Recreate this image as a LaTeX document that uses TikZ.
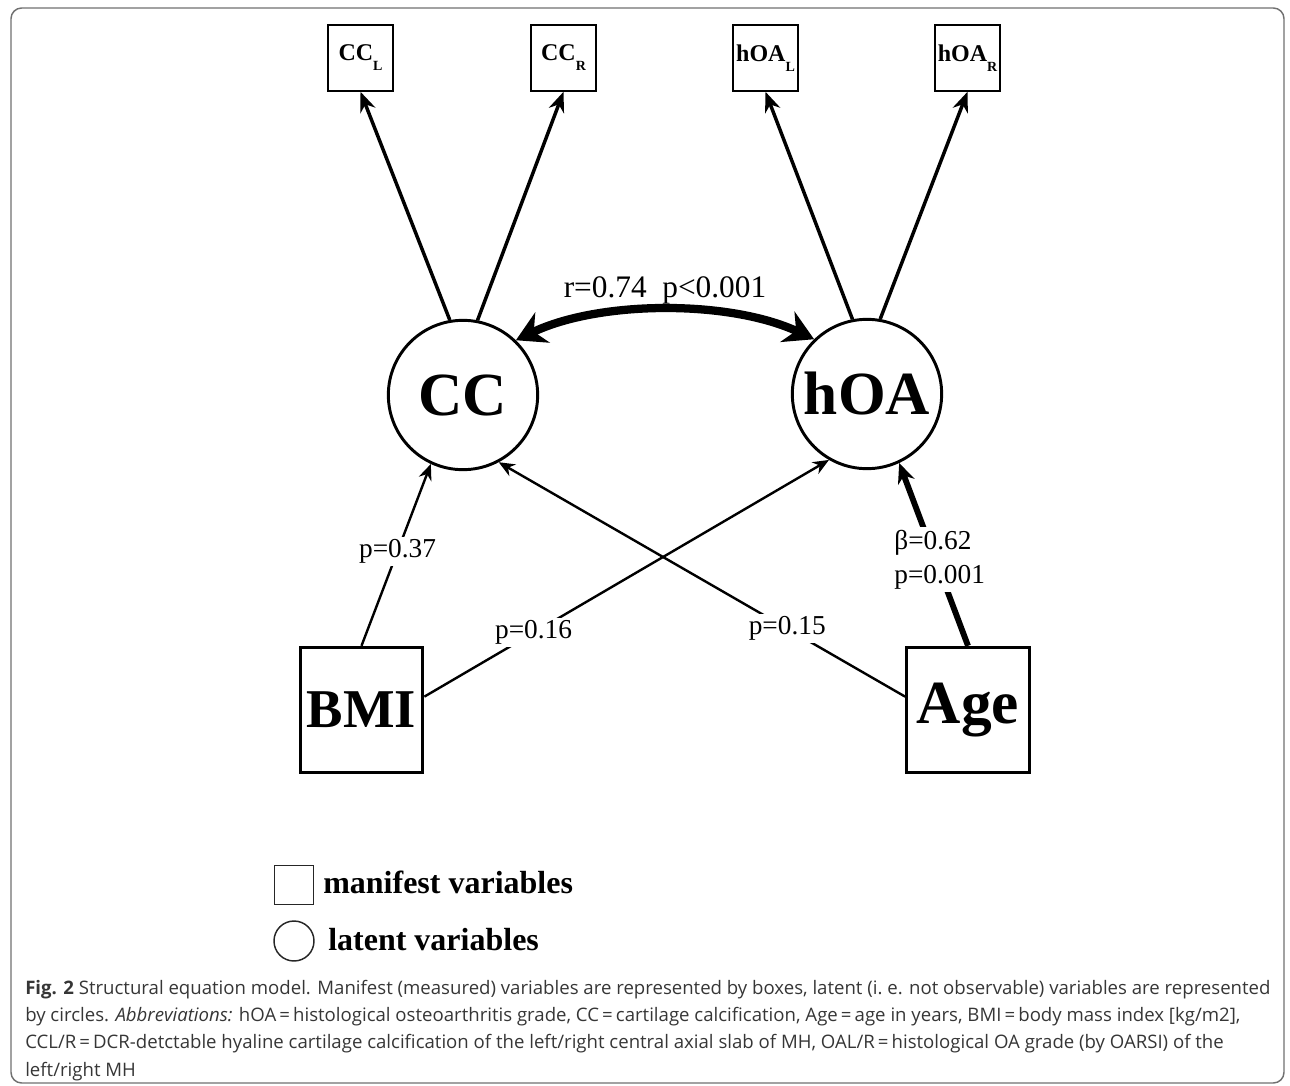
\documentclass[tikz,border=0pt]{standalone}
\usepackage{fontspec}
\setmainfont{Liberation Serif}
\newfontfamily\capfont{Open Sans}
\usetikzlibrary{arrows.meta}
\definecolor{capgray}{HTML}{363636}
\definecolor{framegray}{HTML}{707070}
\newcommand{\lowsub}[1]{\raisebox{-0.42em}{\fontsize{10.5}{10.5}\selectfont #1}}

\tikzset{
  manifest/.style={draw, line width=1.2pt, minimum width=49pt, minimum height=49.5pt, inner sep=0pt, font=\fontsize{18}{20}\selectfont\bfseries},
  bigbox/.style={draw, line width=2.3pt, minimum width=92pt, minimum height=94pt, inner sep=0pt, font=\fontsize{41}{46}\selectfont\bfseries},
  latent/.style={draw, circle, line width=2.2pt, minimum size=112pt, inner sep=0pt, font=\fontsize{46}{50}\selectfont\bfseries},
  loading/.style={line width=2.6pt, -{Stealth[length=15pt, width=12pt]}},
  reg/.style={line width=1.8pt, -{Stealth[length=12pt, width=10pt]}},
  strongreg/.style={line width=4.4pt, -{Stealth[length=15pt, width=13pt]}},
  corr/.style={line width=6.2pt, {Stealth[length=22pt, width=25pt]}-{Stealth[length=22pt, width=25pt]}},
  plabel/.style={fill=white, inner sep=2pt, font=\fontsize{20.5}{26}\selectfont},
  legendtxt/.style={anchor=base west, inner sep=0pt, font=\fontsize{24}{28}\selectfont\bfseries},
  captxt/.style={anchor=base west, inner sep=0pt, text=capgray, font=\capfont\fontsize{13.95}{16}\selectfont},
}

\begin{document}
\begin{tikzpicture}[x=0.75pt, y=-0.75pt]
  \useasboundingbox (0,0) rectangle (1290,1086);
  \draw[framegray, line width=1.1pt, rounded corners=8pt] (11,8) rectangle (1284,1083);

  % measured indicators
  \node[manifest] (ccl) at (360.5,58) {CC\lowsub{L}};
  \node[manifest] (ccr) at (563.5,58) {CC\lowsub{R}};
  \node[manifest] (hoal) at (765.5,58) {hOA\lowsub{L}};
  \node[manifest] (hoar) at (967.5,58) {hOA\lowsub{R}};

  % latent variables
  \node[latent] (cc) at (463,395) {CC};
  \node[latent] (hoa) at (867,394) {hOA};

  % covariates
  \node[bigbox] (bmi) at (361.5,710) {BMI};
  \node[bigbox, font=\fontsize{46}{50}\selectfont\bfseries] (age) at (968,710) {Age};

  \draw[loading] (cc.100) -- (ccl.south);
  \draw[loading] (cc.79) -- (ccr.south);
  \draw[loading] (hoa.101) -- (hoal.south);
  \draw[loading] (hoa.80) -- (hoar.south);

  \draw[corr] (cc.46) .. controls (600,300) and (730,300) .. node[pos=0.5, anchor=base, yshift=9pt, inner sep=0pt, font=\fontsize{23.5}{26}\selectfont] (rlab) {r=0.74\ \ p<0.001} (hoa.134);

  \draw[reg] (bmi.north) -- node[plabel, pos=0.52] (l37) {p=0.37} (cc.245);
  \draw[reg] (bmi.12) -- node[plabel, pos=0.27] (l16) {p=0.16} (hoa.240);
  \draw[reg] (age.168) -- node[plabel, pos=0.29] (l15) {p=0.15} (cc.298);
  \draw[strongreg] (age.north) -- node[plabel, pos=0.47, xshift=3pt, align=left] (l62) {β=0.62\\p=0.001} (hoa.295);

  % legend
  \node[draw, black!85, line width=1.1pt, minimum size=29pt, inner sep=0pt] (lgbox) at (294,885) {};
  \node[draw, black!85, circle, line width=1.1pt, minimum size=30pt, inner sep=0pt] (lgcirc) at (294,941) {};
  \node[legendtxt] (lgman) at (323,893) {manifest variables};
  \node[legendtxt] (lglat) at (328,950) {latent variables};

  % caption
  \node[captxt] (cap1) at (25,994) {\textbf{Fig. 2} Structural equation model. Manifest (measured) variables are represented by boxes, latent (i.\ e. not observable) variables are represented};
  \node[captxt] (cap2) at (25,1021) {by circles. \textit{Abbreviations:} hOA\,=\,histological osteoarthritis grade, CC\,=\,cartilage calcification, Age\,=\,age in years, BMI\,=\,body mass index [kg/m2],};
  \node[captxt] (cap3) at (25,1048.5) {CCL/R\,=\,DCR-detctable hyaline cartilage calcification of the left/right central axial slab of MH, OAL/R\,=\,histological OA grade (by OARSI) of the};
  \node[captxt] (cap4) at (25,1076) {left/right MH};
\end{tikzpicture}
\end{document}
